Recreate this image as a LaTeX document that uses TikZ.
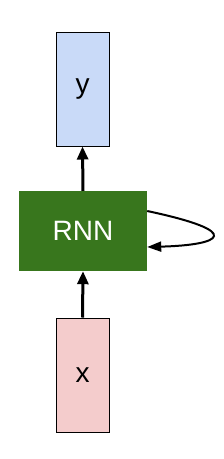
\documentclass[tikz,border=0pt]{standalone}
\usepackage{fontspec}
\setmainfont{Liberation Sans}
\usetikzlibrary{arrows.meta,positioning}
\definecolor{ybox}{HTML}{C9DAF8}
\definecolor{xbox}{HTML}{F4CCCC}
\definecolor{rnnbox}{HTML}{38761D}
\begin{document}
\begin{tikzpicture}[x=1pt,y=-1pt,vec/.style={rectangle,draw,line width=1pt,minimum width=53pt,minimum height=114pt,inner sep=0pt},cell/.style={rectangle,fill=rnnbox,minimum width=128pt,minimum height=80pt,inner sep=0pt,text=white},flow/.style={line width=3pt,-{Triangle[length=13pt,width=11pt]}},every node/.style={font=\fontsize{28}{31}\selectfont}]
\useasboundingbox (0,0) rectangle (223,459);
\node[vec,fill=ybox] (y) at (82.5,89) {y};
\node[cell] (rnn) at (83,231) {RNN};
\node[vec,fill=xbox] (x) at (82.5,375) {x};
\draw[flow] (x.north) -- (rnn.south);
\draw[flow] (rnn.north) -- (y.south);
\draw[line width=2pt,-{Triangle[length=14pt,width=10pt]}] ([yshift=20pt]rnn.east) .. controls (246,232) and (222,245) .. ([yshift=-16pt]rnn.east);
\end{tikzpicture}
\end{document}
